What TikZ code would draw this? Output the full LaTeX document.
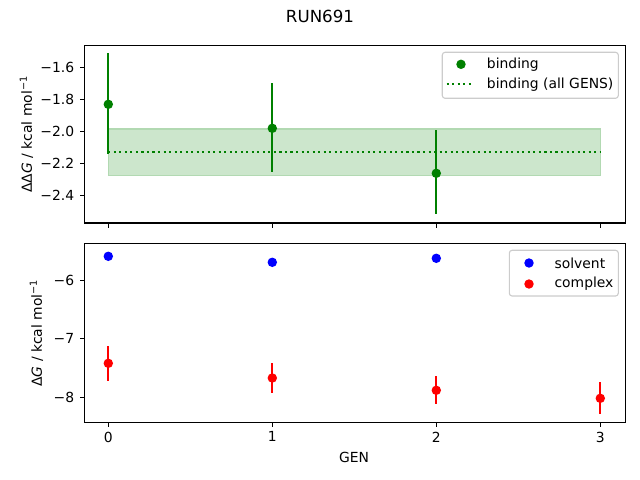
\documentclass[tikz,border=0pt]{standalone}
\usepackage{fontspec}
\setmainfont{DejaVu Sans}
\definecolor{mgreen}{HTML}{008000}
\definecolor{band}{HTML}{CCE6CC}
\definecolor{bandedge}{HTML}{B2D9B2}
\definecolor{leg}{HTML}{CCCCCC}
\tikzset{
  axline/.style={line width=0.8pt, black},
  tickmark/.style={line width=0.8pt, black},
  ticklab/.style={font=\fontsize{10}{12}\selectfont, inner sep=0pt},
  errbar/.style={line width=1.5pt},
  dotmark/.style={circle, inner sep=0pt, minimum size=6.8pt, fill=#1, draw=none},
  legbox/.style={draw=leg, line width=0.8pt, fill=white, fill opacity=0.8, draw opacity=1, rounded corners=2pt},
  legtext/.style={font=\fontsize{10}{12}\selectfont, anchor=west, inner sep=0pt},
  meanline/.style={mgreen, line width=1.5pt, dash pattern=on 1.5pt off 2.475pt}
}
\begin{document}
\begin{tikzpicture}[x=0.72pt, y=-0.72pt]
\useasboundingbox (0,0) rectangle (640,480);
% title
\node[font=\fontsize{12}{14}\selectfont, inner sep=0pt] (title) at (320,16.5) {RUN691};

% ---------- top axes ----------
\fill[band] (108.3,129) rectangle (600.3,175.7);
\draw[bandedge, line width=0.8pt] (108.3,129) rectangle (600.3,175.7);
\coordinate (m0) at (108.3,152);
\coordinate (m1) at (600.3,152);
\draw[meanline] (m0) -- (m1);

\coordinate (b0t) at (108.3,53.3);  \coordinate (b0b) at (108.3,154.3);
\coordinate (b1t) at (272.3,83.3);  \coordinate (b1b) at (272.3,171.7);
\coordinate (b2t) at (436.3,130);   \coordinate (b2b) at (436.3,214.3);
\draw[errbar, mgreen] (b0t) -- (b0b);
\draw[errbar, mgreen] (b1t) -- (b1b);
\draw[errbar, mgreen] (b2t) -- (b2b);
\node[dotmark=mgreen] (bp0) at (108.3,104.3) {};
\node[dotmark=mgreen] (bp1) at (272.3,128.3) {};
\node[dotmark=mgreen] (bp2) at (436.3,173.3) {};

\draw[axline] (84.5,45.5) rectangle (625.5,223);
\foreach \x in {108.3,272.3,436.3,600.3}
  \draw[tickmark] (\x,223) -- ++(0,4.9);
\foreach \y/\l in {67.7/−1.6, 99.7/−1.8, 131.7/−2.0, 163.7/−2.2, 195.7/−2.4}{
  \draw[tickmark] (84.5,\y) -- ++(-4.9,0);
  \node[ticklab, anchor=east] at (74.5,\y) {\l};
}
\node[ticklab, rotate=90] (ylab1) at (26.5,134.2) {ΔΔ\textit{G} / kcal mol\textsuperscript{−1}};

% legend top
\draw[legbox] (442.3,52.3) rectangle (618.3,98.3);
\node[dotmark=mgreen] (lg1) at (461,64.3) {};
\node[legtext] (lt1) at (486.7,64.3) {binding};
\coordinate (ll0) at (446.7,84.3);
\coordinate (ll1) at (474.3,84.3);
\draw[meanline] (ll0) -- (ll1);
\node[legtext] (lt2) at (486.7,84.3) {binding (all GENS)};

% ---------- bottom axes ----------
\coordinate (c0t) at (108.3,346);   \coordinate (c0b) at (108.3,380.7);
\coordinate (c1t) at (272.3,363.3); \coordinate (c1b) at (272.3,392.7);
\coordinate (c2t) at (436.3,376);   \coordinate (c2b) at (436.3,404.3);
\coordinate (c3t) at (600.3,382);   \coordinate (c3b) at (600.3,413.7);
\draw[errbar, red] (c0t) -- (c0b);
\draw[errbar, red] (c1t) -- (c1b);
\draw[errbar, red] (c2t) -- (c2b);
\draw[errbar, red] (c3t) -- (c3b);
\node[dotmark=red] (cp0) at (108.3,363.3) {};
\node[dotmark=red] (cp1) at (272.3,378) {};
\node[dotmark=red] (cp2) at (436.3,390.3) {};
\node[dotmark=red] (cp3) at (600.3,398.3) {};
\node[dotmark=blue] (sp0) at (108.3,256.3) {};
\node[dotmark=blue] (sp1) at (272.3,262.3) {};
\node[dotmark=blue] (sp2) at (436.3,258.3) {};

\draw[axline] (84.5,243.7) rectangle (625.5,422.3);
\foreach \x/\l in {108.3/0,272.3/1,436.3/2,600.3/3}{
  \draw[tickmark] (\x,422.3) -- ++(0,4.9);
  \node[ticklab, anchor=north] at (\x,431.5) {\l};
}
\foreach \y/\l in {280.7/−6, 338.9/−7, 397.1/−8}{
  \draw[tickmark] (84.5,\y) -- ++(-4.9,0);
  \node[ticklab, anchor=east] at (74.5,\y) {\l};
}
\node[ticklab, rotate=90] (ylab2) at (36.5,333) {Δ\textit{G} / kcal mol\textsuperscript{−1}};
\node[ticklab] (xlab) at (354,457.3) {GEN};

% legend bottom
\draw[legbox] (509.3,250.3) rectangle (618.3,296);
\node[dotmark=blue] (lg2) at (529,263) {};
\node[legtext] (lt3) at (554.3,263) {solvent};
\node[dotmark=red] (lg3) at (529,284) {};
\node[legtext] (lt4) at (554.3,284) {complex};
\end{tikzpicture}
\end{document}
